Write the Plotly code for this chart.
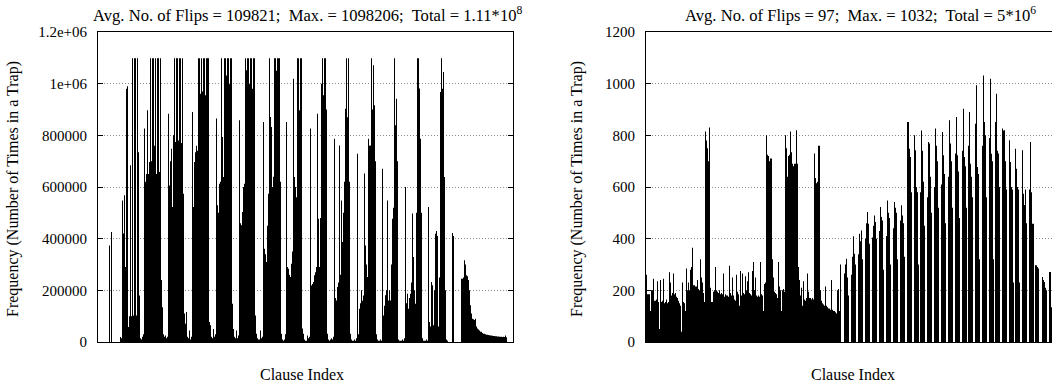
import plotly.graph_objects as go

# ---------------- data ----------------
# Left panel: frequency per clause, in thousands
LEFT_FLIPS_K = [
    0, 0, 0, 0, 0, 0, 0, 0, 0, 0, 0,
    374, 0, 426,
    0, 0, 0, 0, 0, 0, 0, 0,
    19, 15, 548, 420, 568, 290, 980, 990, 58, 100, 684, 100, 1098, 103, 1098, 1098, 103, 1098, 735, 180, 15,
    10, 20, 30, 826, 620, 650, 897, 650, 697, 1098, 700, 1098, 1098, 760, 1098, 650, 1098, 1098, 658, 1098, 240, 135, 30, 20,
    25, 15, 20, 884, 606, 700, 748, 523, 800, 1098, 774, 1098, 1098, 780, 1098, 1098, 770, 1098, 574, 110, 71, 116, 20,
    15, 45, 10, 20, 890, 523, 697, 735, 760, 740, 1098, 1098, 961, 1098, 970, 1098, 1098, 955, 1098, 1098, 1098, 77, 65, 20,
    15, 50, 20, 30, 865, 529, 500, 613, 620, 1098, 794, 639, 1098, 1098, 1032, 1098, 1098, 1000, 1098, 1098, 148, 50, 20,
    15, 45, 15, 25, 858, 460, 452, 503, 600, 613, 1098, 1052, 1098, 1098, 1000, 1098, 1098, 980, 1098, 1098, 103, 32, 15, 10,
    10, 45, 15, 20, 852, 361, 340, 310, 450, 574, 1098, 871, 832, 600, 640, 1098, 1098, 1050, 1098, 1098, 1098, 620, 32, 10, 5,
    10, 30, 852, 290, 284, 260, 252, 303, 350, 1019, 639, 600, 560, 1098, 1098, 897, 1098, 1098, 52, 32, 10, 5,
    5, 25, 15, 20, 826, 219, 225, 232, 258, 270, 290, 884, 477, 290, 480, 1000, 1098, 955, 1098, 1098, 900, 32, 10,
    5, 10, 15, 10, 20, 787, 170, 161, 213, 230, 761, 260, 548, 387, 500, 620, 903, 1098, 870, 1098, 620, 32, 10, 5,
    5, 10, 5, 15, 729, 30, 129, 150, 200, 160, 180, 652, 374, 300, 252, 787, 760, 761, 1098, 900, 1071, 916, 700, 30, 10, 5,
    5, 10, 5, 671, 103, 140, 181, 200, 548, 161, 200, 161, 300, 477, 520, 1098, 839, 942, 700, 10, 5, 5,
    5, 10, 5, 15, 600, 150, 187, 129, 170, 187, 230, 497, 329, 200, 148, 500, 1098, 1098, 981, 787, 500, 15, 5,
    5, 5, 10, 5, 523, 77, 60, 232, 220, 65, 200, 419, 430, 410, 60, 250, 968, 1098, 980, 1045, 639, 200, 10, 5,
    0, 0, 0, 0, 422, 410,
    0, 0, 0, 0, 0, 0, 0,
    245, 245, 250, 316, 300, 258, 255, 240, 200, 142, 110, 90, 88, 85, 90, 60, 52, 48, 45, 40,
    40, 35, 32, 32, 30, 28, 28, 27, 26, 25, 25, 24, 23, 23, 22, 22, 21, 21, 20, 20, 20, 19, 20, 19, 25, 18,
    0, 0, 0, 0, 0, 0,
]

# Right panel: frequency per clause
RIGHT_FLIPS = [
    260, 185, 185, 185, 120, 200, 200, 245, 160, 160, 165, 235, 155, 50, 240, 155, 160, 245, 150, 155,
    165, 150, 155, 270, 230, 180, 190, 265, 185, 190, 175, 170, 160, 150, 140, 40, 230, 155, 150, 120,
    285, 200, 230, 200, 280, 290, 365, 220, 220, 215, 215, 240, 205, 200, 320, 250, 230, 190, 155,
    815, 780, 750, 700, 830, 210,
    155, 155, 195, 200, 290, 200, 195, 190, 200, 185, 190, 185, 265, 175, 185, 180, 180, 175, 295, 190,
    180, 250, 180, 165, 160, 260, 195, 185, 140, 275, 180, 265, 190, 185, 255, 200, 235, 270, 190, 185,
    180, 275, 310, 200, 250, 180, 175, 180, 175, 310, 185, 180, 120, 225, 230,
    800, 725, 720, 700, 710, 710,
    320, 250, 195, 190, 185, 170, 310, 215, 200, 120, 200, 205, 195,
    800, 750, 640, 720, 725, 815, 735, 690, 680, 690, 690, 820, 690,
    290, 240, 180, 210, 140, 235, 165, 160, 170, 265, 195, 170, 170, 165, 170, 165,
    730, 635, 615, 620, 760, 760,
    200, 160, 150, 145, 140, 215, 140, 135, 130, 130, 125, 240, 125, 120, 120, 115, 110, 200, 205, 120, 300,
    0, 0, 0,
    265, 300, 322, 250, 180, 0, 0,
    260, 330, 409, 342, 300, 0, 0,
    340, 419, 390, 432, 320, 0, 0,
    400, 460, 503, 458, 380, 0, 0,
    405, 450, 490, 465, 400, 0, 0,
    430, 523, 484, 470, 280, 0, 0,
    410, 548, 500, 480, 300, 0, 0,
    440, 542, 520, 500, 320, 0, 0,
    470, 529, 490, 460, 330, 0, 0,
    852, 852, 748, 716, 580, 0, 0,
    800, 742, 600, 580, 300, 0,
    580, 819, 740, 620, 450, 0, 0,
    560, 774, 768, 640, 500, 0, 0,
    600, 826, 760, 700, 520, 0, 0,
    610, 813, 723, 650, 460, 0, 0,
    640, 858, 768, 700, 520, 0, 0,
    730, 871, 723, 660, 480, 0, 0,
    740, 903, 716, 680, 520, 0,
    760, 890, 690, 640, 560, 0, 0,
    845, 994, 677, 650, 320, 0, 0,
    760, 1032, 852, 800, 560, 0, 0,
    790, 1019, 729, 700, 320, 0,
    852, 961, 740, 730, 600, 0, 0,
    826, 819, 820, 700, 590, 0, 0,
    781, 697, 600, 590, 230, 0,
    748, 671, 600, 590, 230, 0, 0,
    742, 574, 530, 590, 460, 0, 0,
    590, 774, 580, 458, 458, 0,
    297, 297, 290, 285, 0, 0, 0,
    252, 240, 232, 210, 200, 0, 0,
    271, 271, 135, 120, 100,
]

LEFT_TICKS = [0, 200000, 400000, 600000, 800000, 1000000, 1200000]
LEFT_TICK_TEXT = ["0", "200000", "400000", "600000", "800000", "1e+06", "1.2e+06"]
RIGHT_TICKS = [0, 200, 400, 600, 800, 1000, 1200]
RIGHT_TICK_TEXT = ["0", "200", "400", "600", "800", "1000", "1200"]

NB = "\u00a0"
LEFT_TITLE = f"Avg. No. of Flips = 109821;{NB} Max. = 1098206;{NB} Total = 1.11*10<sup>8</sup>"
RIGHT_TITLE = f"Avg. No. of Flips = 97;{NB} Max. = 1032;{NB} Total = 5*10<sup>6</sup>"
X_LABEL = "Clause Index"
Y_LABEL = "Frequency (Number of Times in a Trap)"

# ---------------- figure ----------------
W, H = 1052, 386
FONT = "Liberation Serif"
FS = 16

left_y = [v * 1000 for v in LEFT_FLIPS_K] + [0]
right_y = RIGHT_FLIPS + [0]

fig = go.Figure()
fig.add_trace(go.Scatter(
    x=list(range(len(left_y))), y=left_y, mode="lines",
    line=dict(shape="hv", width=0, color="black"),
    fill="tozeroy", fillcolor="black", hoverinfo="skip",
    xaxis="x", yaxis="y"))
fig.add_trace(go.Scatter(
    x=list(range(len(right_y))), y=right_y, mode="lines",
    line=dict(shape="hv", width=0, color="black"),
    fill="tozeroy", fillcolor="black", hoverinfo="skip",
    xaxis="x2", yaxis="y2"))

ydom = [44 / H, 354 / H]
common_x = dict(showticklabels=False, ticks="", showgrid=False, zeroline=False,
                showline=True, linecolor="black", linewidth=1, mirror=True,
                automargin=False)
common_y = dict(ticks="inside", ticklen=5, tickcolor="black", showline=True,
                linecolor="black", linewidth=1, showgrid=True, gridcolor="#8a8a8a",
                griddash="1px,2px", gridwidth=1, zeroline=False, automargin=False,
                tickfont=dict(family=FONT, size=15, color="black"),
                ticklabelstandoff=7)

fig.update_layout(
    width=W, height=H, margin=dict(l=0, r=0, t=0, b=0, autoexpand=False),
    paper_bgcolor="white", plot_bgcolor="white", showlegend=False,
    hovermode=False,
    xaxis=dict(domain=[98 / W, 513 / W], range=[0, 415], anchor="y", **common_x),
    yaxis=dict(domain=ydom, range=[0, 1200000], tickvals=LEFT_TICKS,
               ticktext=LEFT_TICK_TEXT, anchor="x", mirror="ticks", **common_y),
    xaxis2=dict(domain=[646 / W, 1.0], range=[0, 406], anchor="y2", **common_x),
    yaxis2=dict(domain=ydom, range=[0, 1200], tickvals=RIGHT_TICKS,
                ticktext=RIGHT_TICK_TEXT, anchor="x2", mirror=False, **common_y),
)

def ann(text, x, y, angle=0, size=FS):
    fig.add_annotation(text=text, x=x / W, y=1 - y / H, xref="paper", yref="paper",
                       showarrow=False, textangle=angle, xanchor="center", yanchor="middle",
                       font=dict(family=FONT, size=size, color="black"))

ann(LEFT_TITLE, 307, 14, size=16.6)
ann(RIGHT_TITLE, 860, 14, size=16.6)
ann(X_LABEL, 302, 374)
ann(X_LABEL, 853, 374)
ann(Y_LABEL, 13, 189, -90)
ann(Y_LABEL, 577, 189, -90)

fig.write_html(
    "out.html",
    config={"displayModeBar": False, "staticPlot": True},
    post_script="document.body.style.margin='0px';document.body.style.overflow='hidden';",
)
